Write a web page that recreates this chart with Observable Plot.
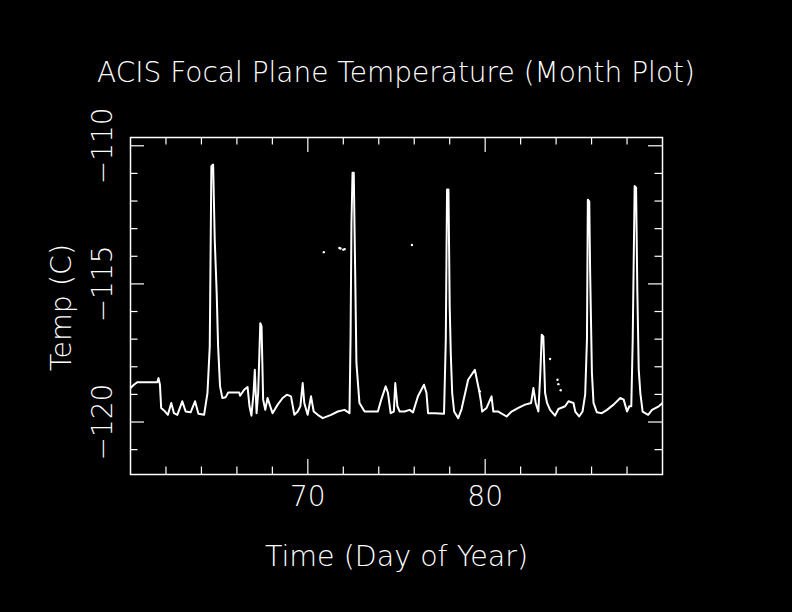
<!DOCTYPE html>
<html><head><meta charset="utf-8">
<script src="https://cdn.jsdelivr.net/npm/d3@7"></script>
<script src="https://cdn.jsdelivr.net/npm/@observablehq/plot@0.6"></script>
<style>
html,body{margin:0;padding:0;background:#000;}
#title{box-sizing:border-box;height:100px;width:792px;padding-top:59px;color:#fff;
  font-family:"DejaVu Sans",sans-serif;font-weight:200;font-size:28px;line-height:28px;text-align:center;white-space:nowrap;}
</style></head><body>
<div id="title">ACIS Focal Plane Temperature (Month Plot)</div>
<div id="chart"></div>
<script>
const titleText = "ACIS Focal Plane Temperature (Month Plot)";
const xLabel = "Time (Day of Year)";
const yLabel = "Temp (C)";
const xDomain = [60, 90];
const yDomain = [-121.9, -109.7];
const xMajor = [70, 80];
const xMinor = [62, 64, 66, 68, 72, 74, 76, 78, 82, 84, 86, 88];
const yMajor = [-110, -115, -120];
const yMinor = [-111, -112, -113, -114, -116, -117, -118, -119, -121];

// [day of year, temperature C]
const series = [
[60.00,-118.77],[60.19,-118.65],[60.38,-118.56],[61.51,-118.56],[61.58,-118.41],[61.66,-118.65],[61.73,-119.49],[61.89,-119.58],[62.11,-119.74],[62.30,-119.31],
[62.45,-119.68],[62.64,-119.74],[62.92,-119.25],[63.11,-119.62],[63.39,-119.65],[63.64,-119.25],[63.83,-119.70],[64.15,-119.74],[64.34,-118.95],[64.47,-117.26],
[64.56,-110.74],[64.66,-110.68],[64.75,-113.40],[64.86,-115.33],[64.94,-117.26],[65.05,-118.71],[65.18,-119.13],[65.37,-119.10],[65.51,-118.93],[66.13,-118.93],
[66.18,-119.05],[66.41,-118.83],[66.60,-118.73],[66.71,-119.43],[66.82,-119.77],[66.94,-118.95],[67.01,-118.11],[67.11,-119.68],[67.20,-118.95],[67.32,-116.42],
[67.39,-116.54],[67.48,-119.19],[67.60,-119.56],[67.73,-119.13],[67.88,-119.43],[68.01,-119.68],[68.30,-119.37],[68.58,-119.13],[68.82,-119.01],[69.05,-119.07],
[69.24,-119.74],[69.43,-119.62],[69.58,-119.43],[69.71,-118.59],[69.80,-119.31],[69.99,-119.74],[70.18,-119.07],[70.33,-119.62],[70.56,-119.74],[70.84,-119.86],
[71.31,-119.74],[71.69,-119.62],[72.07,-119.56],[72.35,-119.68],[72.41,-116.90],[72.46,-112.79],[72.52,-110.98],[72.59,-110.98],[72.67,-114.60],[72.74,-117.86],
[72.91,-119.31],[73.20,-119.62],[73.57,-119.62],[73.95,-119.62],[74.14,-119.19],[74.39,-118.71],[74.52,-118.95],[74.67,-119.68],[74.85,-119.62],[74.93,-118.59],
[75.05,-119.43],[75.18,-119.62],[75.46,-119.62],[75.74,-119.56],[75.93,-119.65],[76.21,-119.07],[76.55,-118.65],[76.69,-118.95],[76.78,-119.68],[77.16,-119.68],
[77.68,-119.70],[77.78,-117.02],[77.85,-111.58],[77.93,-111.58],[78.00,-115.81],[78.06,-117.50],[78.14,-118.95],[78.25,-119.62],[78.48,-119.86],[78.67,-119.53],
[79.04,-118.47],[79.23,-118.29],[79.42,-118.11],[79.57,-118.59],[79.65,-118.83],[79.76,-119.25],[79.83,-119.62],[80.08,-119.49],[80.36,-119.07],[80.46,-119.62],
[80.74,-119.62],[81.21,-119.80],[81.49,-119.62],[81.87,-119.49],[82.25,-119.37],[82.59,-119.31],[82.72,-118.77],[82.85,-119.31],[83.00,-119.62],[83.11,-118.23],
[83.19,-116.84],[83.28,-116.90],[83.38,-118.95],[83.49,-119.31],[83.66,-119.56],[83.94,-119.77],[84.13,-119.53],[84.51,-119.43],[84.70,-119.25],[84.98,-119.31],
[85.08,-119.62],[85.30,-119.80],[85.49,-119.62],[85.64,-119.01],[85.74,-117.02],[85.79,-111.95],[85.87,-112.01],[85.92,-114.60],[86.02,-118.23],[86.11,-119.31],
[86.30,-119.65],[86.58,-119.68],[86.87,-119.56],[87.24,-119.37],[87.62,-119.13],[87.81,-119.19],[88.00,-119.62],[88.13,-119.43],[88.24,-119.43],[88.32,-117.02],
[88.43,-111.46],[88.51,-111.52],[88.58,-115.21],[88.66,-118.11],[88.75,-118.95],[88.88,-119.62],[89.19,-119.74],[89.41,-119.56],[89.79,-119.43],[90.00,-119.31]
];

// isolated readings
const strays = [
[70.90,-113.85],[71.78,-113.70],[71.84,-113.72],[72.00,-113.76],[72.08,-113.74],
[75.87,-113.59],[79.70,-118.89],[83.66,-117.72],[84.08,-118.47],[84.13,-118.63],[84.26,-118.85]
];

const W = 792, H = 512, mT = 37, mB = 138, mL = 130, mR = 130;
const FH = H - mT - mB, FW = W - mL - mR;
const font = '"DejaVu Sans", sans-serif';
const fmt = d3.format("d");

const chart = Plot.plot({
  width: W, height: H,
  marginTop: mT, marginBottom: mB, marginLeft: mL, marginRight: mR,
  style: {background: "#000", color: "#fff", fontFamily: font, fontWeight: 200, overflow: "visible"},
  x: {domain: xDomain, axis: null},
  y: {domain: yDomain, axis: null},
  marks: [
    Plot.frame({stroke: "#fff", strokeWidth: 1.5}),
    Plot.ruleX(xMinor, {x: d => d, stroke: "#fff", strokeWidth: 1.2, insetTop: FH - 7.5}),
    Plot.ruleX(xMinor, {x: d => d, stroke: "#fff", strokeWidth: 1.2, insetBottom: FH - 7.5}),
    Plot.ruleX(xMajor, {x: d => d, stroke: "#fff", strokeWidth: 1.2, insetTop: FH - 15}),
    Plot.ruleX(xMajor, {x: d => d, stroke: "#fff", strokeWidth: 1.2, insetBottom: FH - 15}),
    Plot.ruleY(yMinor, {y: d => d, stroke: "#fff", strokeWidth: 1.2, insetRight: FW - 7.5}),
    Plot.ruleY(yMinor, {y: d => d, stroke: "#fff", strokeWidth: 1.2, insetLeft: FW - 7.5}),
    Plot.ruleY(yMajor, {y: d => d, stroke: "#fff", strokeWidth: 1.2, insetRight: FW - 14}),
    Plot.ruleY(yMajor, {y: d => d, stroke: "#fff", strokeWidth: 1.2, insetLeft: FW - 14}),
    Plot.line(series, {x: d => d[0], y: d => d[1], stroke: "#fff", strokeWidth: 2, clip: true}),
    Plot.dot(strays, {x: d => d[0], y: d => d[1], r: 1.2, fill: "#fff"}),
    Plot.text(xMajor, {x: d => d, text: d => fmt(d), frameAnchor: "bottom", dy: 23, fill: "#fff", fontSize: 28, lineAnchor: "middle"}),
    Plot.text(yMajor, {y: d => d, text: d => fmt(d), frameAnchor: "left", dx: -27, rotate: -90, fill: "#fff", fontSize: 28, textAnchor: "middle", lineAnchor: "middle"}),
    Plot.text([xLabel], {text: d => d, frameAnchor: "bottom", dy: 82, dx: 0, fill: "#fff", fontSize: 28.5, lineAnchor: "middle"}),
    Plot.text([yLabel], {text: d => d, frameAnchor: "left", dx: -69, dy: 1.5, rotate: -90, fill: "#fff", fontSize: 28.5, lineAnchor: "middle", textAnchor: "middle"})
  ]
});
document.getElementById("title").textContent = titleText;
document.getElementById("chart").appendChild(chart);
</script>
</body></html>
